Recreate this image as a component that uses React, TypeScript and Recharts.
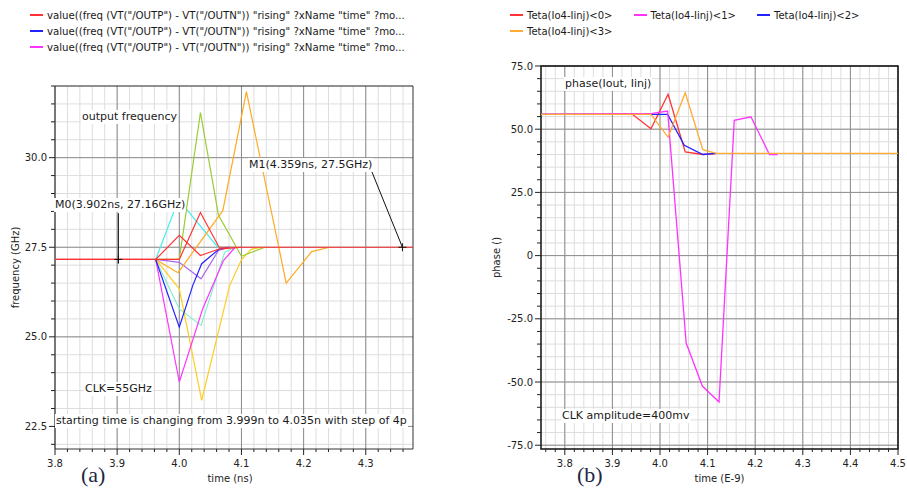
import React from "react";
import {
  LineChart,
  Line,
  XAxis,
  YAxis,
  CartesianGrid,
  ReferenceArea,
  ReferenceLine,
  ReferenceDot,
  Legend,
  Label,
} from "recharts";

// (a) output frequency, one trace per starting time (3.999n .. 4.035n)
const tA0 = [3.8, 3.962, 4.0, 4.034, 4.064, 4.376];
const fA0 = [27.16, 27.16, 27.16, 28.47, 27.5, 27.5];
const tA1 = [3.8, 3.962, 4.0, 4.034, 4.064, 4.1];
const fA1 = [27.16, 27.16, 27.83, 27.27, 27.45, 27.5];
const tA2 = [3.962, 3.993, 4.012, 4.062, 4.09];
const fA2 = [27.16, 28.57, 28.55, 27.5, 27.5];
const tA3 = [3.962, 4.0, 4.034, 4.063, 4.1, 4.138];
const fA3 = [27.16, 27.16, 31.26, 28.4, 27.25, 27.5];
const tA4 = [3.962, 3.998, 4.07, 4.108, 4.172, 4.213, 4.242];
const fA4 = [27.16, 26.79, 28.52, 31.84, 26.5, 27.38, 27.5];
const tA5 = [3.962, 4.0, 4.022, 4.036, 4.064, 4.08];
const fA5 = [27.16, 25.27, 26.45, 27.04, 27.45, 27.5];
const tA6 = [3.962, 4.0, 4.038, 4.071, 4.09];
const fA6 = [27.16, 23.74, 25.8, 27.13, 27.5];
const tA7 = [3.962, 4.0, 4.036, 4.081, 4.1, 4.116, 4.135];
const fA7 = [27.16, 26.34, 23.23, 26.43, 27.15, 27.45, 27.5];
const tA8 = [3.962, 4.0, 4.035, 4.063, 4.08];
const fA8 = [27.16, 27.08, 26.62, 27.41, 27.5];
const tA9 = [3.962, 4.0, 4.035, 4.073, 4.09];
const fA9 = [27.16, 25.78, 25.32, 27.36, 27.5];

const freqTimeTicks = [3.8, 3.9, 4.0, 4.1, 4.2, 4.3];
const freqTicks = [22.5, 25.0, 27.5, 30.0];
const freqLegend = [
  'value((freq (VT("/OUTP") - VT("/OUTN")) "rising" ?xName "time" ?mo...',
  'value((freq (VT("/OUTP") - VT("/OUTN")) "rising" ?xName "time" ?mo...',
  'value((freq (VT("/OUTP") - VT("/OUTN")) "rising" ?xName "time" ?mo...',
];

// (b) phase(Iout, Iinj)
const tB0 = [3.75, 3.942, 3.981, 4.017, 4.053, 4.09, 4.118];
const pB0 = [55.9, 55.9, 50.2, 63.8, 41.0, 40.0, 40.3];
const tB1 = [3.75, 3.984, 4.016, 4.055, 4.089, 4.124, 4.156, 4.191, 4.23, 4.247];
const pB1 = [55.9, 56.3, 57.2, -34.6, -51.6, -57.9, 53.5, 54.9, 40.0, 40.0];
const tB2 = [3.75, 3.981, 4.016, 4.051, 4.09, 4.118];
const pB2 = [55.9, 55.9, 55.9, 43.6, 40.0, 40.4];
const tB3 = [3.75, 3.981, 4.017, 4.053, 4.09, 4.118, 4.5];
const pB3 = [55.9, 55.9, 46.8, 64.4, 41.9, 40.4, 40.4];

const phaseTimeTicks = [3.8, 3.9, 4.0, 4.1, 4.2, 4.3, 4.4, 4.5];
const phaseTicks = [-75, -50, -25, 0, 25, 50, 75];
const phaseLegend = [
  "Teta(Io4-Iinj)<0>",
  "Teta(Io4-Iinj)<1>",
  "Teta(Io4-Iinj)<2>",
  "Teta(Io4-Iinj)<3>",
];

const pts = (t: number[], v: number[]) => t.map((x, i) => ({ t: x, v: v[i] }));

const freqSeries = [
  { color: "#80f0d0", data: pts(tA9, fA9) },
  { color: "#aa66ee", data: pts(tA8, fA8) },
  { color: "#ffcc22", data: pts(tA7, fA7) },
  { color: "#44eeee", data: pts(tA2, fA2) },
  { color: "#99cc33", data: pts(tA3, fA3) },
  { color: "#ffaa22", data: pts(tA4, fA4) },
  { color: "#ff33ff", data: pts(tA6, fA6) },
  { color: "#2222ff", data: pts(tA5, fA5) },
  { color: "#ff3333", data: pts(tA1, fA1) },
  { color: "#ff3333", data: pts(tA0, fA0) },
];
const freqLegendColors = ["#ff3333", "#2222ff", "#ff33ff"];

const phaseColors = ["#ff3333", "#ff33ff", "#2222ff", "#ffaa33"];
const phaseSeries = [
  { color: phaseColors[0], data: pts(tB0, pB0) },
  { color: phaseColors[2], data: pts(tB2, pB2) },
  { color: phaseColors[1], data: pts(tB1, pB1) },
  { color: phaseColors[3], data: pts(tB3, pB3) },
];

const steps = (from: number, to: number, step: number) => {
  const out: number[] = [];
  const n = Math.round((to - from) / step);
  for (let i = 0; i <= n; i++) out.push(Math.round((from + i * step) * 1000) / 1000);
  return out;
};
const has = (arr: number[], v: number) => arr.some((m) => Math.abs(m - v) < 1e-6);

const FONT = "'DejaVu Sans', sans-serif";
const MINOR = "#dddddd";
const MAJOR = "#8c8c8c";

function XTick(props: any) {
  const { x, y, payload, majors } = props;
  const major = has(majors, payload.value);
  return (
    <g>
      <line x1={x} x2={x} y1={y} y2={y + (major ? 6 : 3)} stroke="#222" />
      {major && (
        <text x={x} y={y + 18} textAnchor="middle" fontSize={10} fill="#222" fontFamily={FONT}>
          {payload.value.toFixed(1)}
        </text>
      )}
    </g>
  );
}

function YTick(props: any) {
  const { x, y, payload, majors } = props;
  const major = has(majors, payload.value);
  const v = payload.value;
  return (
    <g>
      <line x1={x} x2={x - (major ? 6 : 4)} y1={y} y2={y} stroke="#222" />
      {major && (
        <text x={x - 8} y={y} dy={3.5} textAnchor="end" fontSize={10} fill="#222" fontFamily={FONT}>
          {v === 0 ? "0" : v.toFixed(1)}
        </text>
      )}
    </g>
  );
}

function Marker(props: any) {
  const { cx, cy } = props;
  return (
    <g stroke="#111">
      <line x1={cx - 4} x2={cx + 4} y1={cy} y2={cy} />
      <line x1={cx} x2={cx} y1={cy - 4} y2={cy + 4} />
    </g>
  );
}

function LegendBox({ names, colors, itemWidth, fontSize }: { names: string[]; colors: string[]; itemWidth?: number; fontSize: number }) {
  return (
    <div style={{ display: "flex", flexWrap: "wrap", fontFamily: FONT, fontSize, color: "#1a1a1a" }}>
      {names.map((n, i) => (
        <div
          key={i}
          style={{ display: "flex", alignItems: "center", height: 16, width: itemWidth ?? "100%", whiteSpace: "nowrap" }}
        >
          <div style={{ width: 13, height: 2, background: colors[i], marginRight: 4, flex: "none" }} />
          {n}
        </div>
      ))}
    </div>
  );
}

const note = (left: number, top: number, extra?: React.CSSProperties): React.CSSProperties => ({
  position: "absolute",
  left,
  top,
  fontFamily: FONT,
  fontSize: 11,
  lineHeight: "14px",
  color: "#1a1a1a",
  background: "#fff",
  padding: "0 1px",
  whiteSpace: "nowrap",
  ...extra,
});

export default function App() {
  const fxMinor = steps(3.8, 4.36, 0.02);
  const fyMinor = steps(22, 32, 0.5);
  const pxMinor = steps(3.76, 4.5, 0.02);
  const pyMinor = steps(-75, 75, 5);

  return (
    <div style={{ position: "absolute", left: 0, top: 0, width: 907, height: 489, background: "#fff", fontFamily: FONT }}>
      <div style={{ position: "absolute", left: 0, top: 0 }}>
        <LineChart width={460} height={489} margin={{ top: 86, right: 47, bottom: 0, left: 0 }}>
          <CartesianGrid verticalValues={fxMinor} horizontalValues={fyMinor} stroke={MINOR} />
          <CartesianGrid verticalValues={freqTimeTicks} horizontalValues={freqTicks} stroke={MAJOR} />
          <XAxis
            dataKey="t"
            type="number"
            domain={[3.8, 4.376]}
            allowDataOverflow
            ticks={fxMinor}
            interval={0}
            height={40}
            axisLine={false}
            tickLine={false}
            tickSize={0}
            tickMargin={0}
            tick={(p: any) => <XTick {...p} majors={freqTimeTicks} />}
          >
            <Label value="time (ns)" position="center" dx={-4} dy={9} fontSize={10} fill="#222" fontFamily={FONT} />
          </XAxis>
          <YAxis
            type="number"
            domain={[21.87, 32]}
            allowDataOverflow
            ticks={fyMinor}
            interval={0}
            width={55}
            axisLine={false}
            tickLine={false}
            tickSize={0}
            tickMargin={0}
            tick={(p: any) => <YTick {...p} majors={freqTicks} />}
          >
            <Label value="frequency (GHz)" position="center" angle={-90} dx={-12} fontSize={10} fill="#222" fontFamily={FONT} />
          </YAxis>
          <Legend
            verticalAlign="middle"
            align="center"
            wrapperStyle={{ top: 7, left: 30, width: 420 }}
            content={() => <LegendBox names={freqLegend} colors={freqLegendColors} fontSize={10.2} />}
          />
          {freqSeries.map((s, i) => (
            <Line
              key={i}
              data={s.data}
              dataKey="v"
              type="linear"
              stroke={s.color}
              strokeWidth={1.2}
              dot={false}
              isAnimationActive={false}
              legendType="none"
            />
          ))}
          <ReferenceLine segment={[{ x: 3.902, y: 27.05 }, { x: 3.902, y: 28.45 }]} stroke="#111" />
          <ReferenceLine segment={[{ x: 4.359, y: 27.5 }, { x: 4.31, y: 29.6 }]} stroke="#111" />
          <ReferenceDot x={3.902} y={27.16} r={4} shape={(p: any) => <Marker {...p} />} />
          <ReferenceDot x={4.359} y={27.5} r={4} shape={(p: any) => <Marker {...p} />} />
          <ReferenceArea x1={3.8} x2={4.376} y1={21.87} y2={32} fill="none" stroke="#333" />
        </LineChart>
      </div>

      <div style={{ position: "absolute", left: 460, top: 0 }}>
        <LineChart width={447} height={489} margin={{ top: 66, right: 9, bottom: 0, left: 0 }}>
          <CartesianGrid verticalValues={pxMinor} horizontalValues={pyMinor} stroke={MINOR} />
          <CartesianGrid verticalValues={phaseTimeTicks} horizontalValues={phaseTicks} stroke={MAJOR} />
          <XAxis
            dataKey="t"
            type="number"
            domain={[3.75, 4.5]}
            allowDataOverflow
            ticks={pxMinor}
            interval={0}
            height={40}
            axisLine={false}
            tickLine={false}
            tickSize={0}
            tickMargin={0}
            tick={(p: any) => <XTick {...p} majors={phaseTimeTicks} />}
          >
            <Label value="time (E-9)" position="center" dy={9} fontSize={10} fill="#222" fontFamily={FONT} />
          </XAxis>
          <YAxis
            type="number"
            domain={[-76.5, 75]}
            allowDataOverflow
            ticks={pyMinor}
            interval={0}
            width={81}
            axisLine={false}
            tickLine={false}
            tickSize={0}
            tickMargin={0}
            tick={(p: any) => <YTick {...p} majors={phaseTicks} />}
          >
            <Label value="phase ()" position="center" angle={-90} dx={-4} fontSize={10} fill="#222" fontFamily={FONT} />
          </YAxis>
          <Legend
            verticalAlign="middle"
            align="center"
            wrapperStyle={{ top: 7, left: 50, width: 380 }}
            content={() => <LegendBox names={phaseLegend} colors={phaseColors} itemWidth={123.5} fontSize={10} />}
          />
          {phaseSeries.map((s, i) => (
            <Line
              key={i}
              data={s.data}
              dataKey="v"
              type="linear"
              stroke={s.color}
              strokeWidth={1.3}
              dot={false}
              isAnimationActive={false}
              legendType="none"
            />
          ))}
          <ReferenceArea x1={3.75} x2={4.5} y1={-76.5} y2={75} fill="none" stroke="#111" strokeWidth={1.5} />
        </LineChart>
      </div>

      <div style={note(81, 110)}>output frequency</div>
      <div style={note(54, 198)}>M0(3.902ns, 27.16GHz)</div>
      <div style={note(248, 158)}>M1(4.359ns, 27.5GHz)</div>
      <div style={note(84, 382)}>CLK=55GHz</div>
      <div style={note(55, 414)}>starting time is changing from 3.999n to 4.035n with step of 4p</div>
      <div style={note(564, 77)}>phase(Iout, Iinj)</div>
      <div style={note(561, 409)}>CLK amplitude=400mv</div>
      <div style={{ position: "absolute", left: 81, top: 462, fontFamily: "'Liberation Serif', serif", fontSize: 22, color: "#1c2744" }}>
        (a)
      </div>
      <div style={{ position: "absolute", left: 577, top: 462, fontFamily: "'Liberation Serif', serif", fontSize: 22, color: "#1c2744" }}>
        (b)
      </div>
    </div>
  );
}
